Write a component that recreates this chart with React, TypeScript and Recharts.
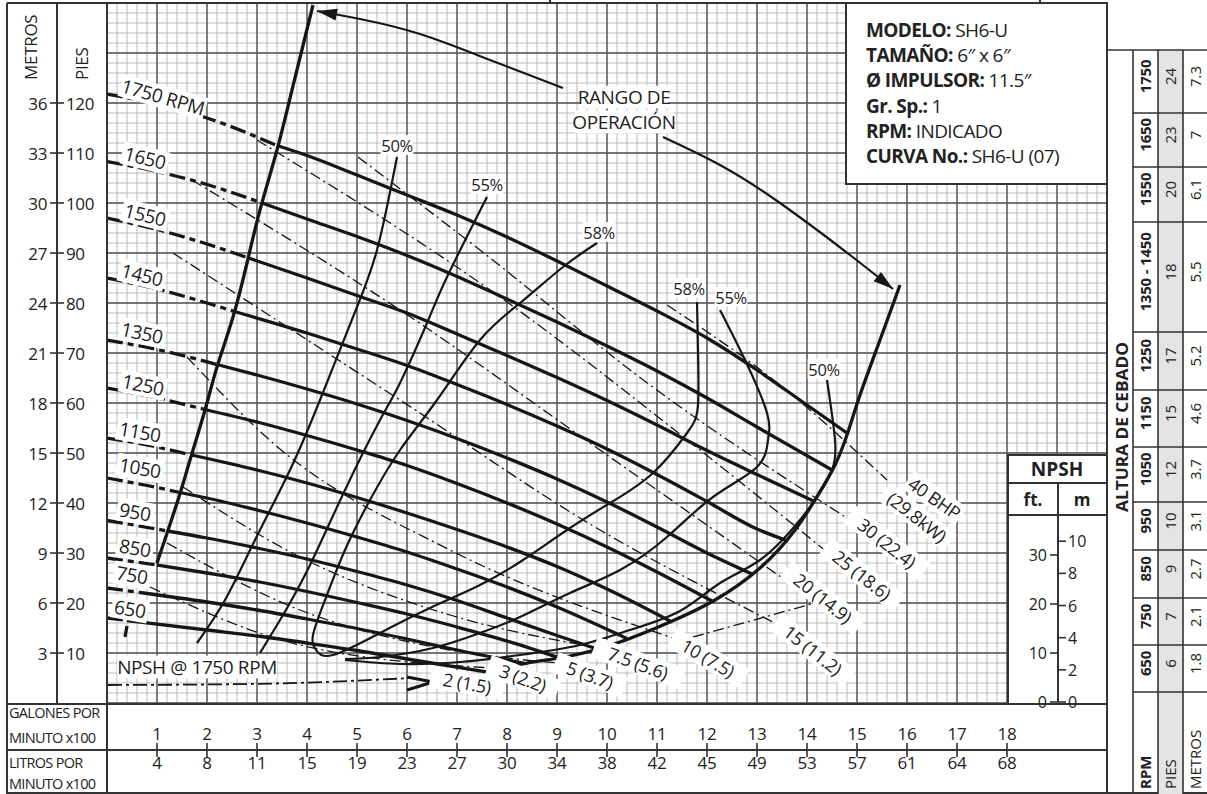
import React from 'react';
import { ComposedChart, Line, Scatter, XAxis, YAxis, CartesianGrid } from 'recharts';

const FONT = "'Open Sans', 'Noto Sans', 'DejaVu Sans', sans-serif";
const INK = '#161616';
const FRAME = '#333';

// ---------- axis ticks ----------
const gpmTicks = [1, 2, 3, 4, 5, 6, 7, 8, 9, 10, 11, 12, 13, 14, 15, 16, 17, 18];
const litrosLabels = ['4', '8', '11', '15', '19', '23', '27', '30', '34', '38', '42', '45', '49', '53', '57', '61', '64', '68'];
const piesTicks = [10, 20, 30, 40, 50, 60, 70, 80, 90, 100, 110, 120];
const metrosLabels = ['3', '6', '9', '12', '15', '18', '21', '24', '27', '30', '33', '36'];

const minorX = Array.from({ length: 101 }, (_, i) => Math.round(i * 2) / 10);
const majorX = Array.from({ length: 21 }, (_, i) => i);
const minorY = Array.from({ length: 71 }, (_, i) => i * 2);
const majorY = Array.from({ length: 15 }, (_, i) => i * 10);

// ---------- head curves (x: GPM x100, y: feet) ----------
const rpm1750Dash = [[0, 121.8], [1, 119.8], [2, 117], [3.4, 111.5]];
const rpm1750 = [[3.4, 111.5], [4, 109.5], [5, 105.6], [6, 101.6], [7, 97.6], [8, 93.2], [9, 88.4], [10, 83.4], [11, 78.4], [12, 73], [13, 66.6], [14, 59.6], [14.8, 54]];
const rpm1650Dash = [[0, 108.3], [1, 106.3], [2, 103.7], [3.1, 100]];
const rpm1650 = [[3.1, 100], [4, 96.8], [5, 93.3], [6, 89.5], [7, 85.3], [8, 80.8], [9, 76.2], [10, 71.4], [11, 66.4], [12, 61], [13, 55.2], [14.5, 46.6]];
const rpm1550Dash = [[0, 97], [1, 94.7], [2, 91.8], [2.83, 89]];
const rpm1550 = [[2.83, 89], [4, 85], [5, 81.5], [6, 78], [7, 73.8], [8, 69.5], [9, 65.1], [10, 60.5], [11, 55.6], [12, 50.5], [13, 45.7], [14.15, 40.3]];
const rpm1450Dash = [[0, 85], [1, 82.8], [2, 80], [2.55, 78.3]];
const rpm1450 = [[2.55, 78.3], [4, 74], [5, 70.8], [6, 67.5], [7, 63.7], [8, 59.7], [9, 55.4], [10, 50.8], [11, 45.7], [12, 40.3], [13, 34.8], [13.62, 32.4]];
const rpm1350Dash = [[0, 72.6], [1, 70.7], [2.2, 67.7]];
const rpm1350 = [[2.2, 67.7], [3, 65.6], [4, 62.8], [5, 59.8], [6, 56.5], [7, 52.9], [8, 49], [9, 44.8], [10, 40.2], [11, 35.2], [12, 30], [12.9, 25.8]];
const rpm1250Dash = [[0, 63], [1, 61], [1.96, 58.7]];
const rpm1250 = [[1.96, 58.7], [3, 56.2], [4, 53.5], [5, 50.6], [6, 47.5], [7, 43.9], [8, 40], [9, 35.8], [10, 31.2], [11, 26.2], [12.1, 20.4]];
const rpm1150Dash = [[0, 53], [0.9, 51.4], [1.69, 49.6]];
const rpm1150 = [[1.69, 49.6], [3, 46.6], [4, 44], [5, 41.1], [6, 38], [7, 34.7], [8, 31.2], [9, 27.3], [10, 22.8], [11.3, 16.2]];
const rpm1050Dash = [[0, 45], [0.8, 43.5], [1.46, 42.1]];
const rpm1050 = [[1.46, 42.1], [2, 41], [3, 38.6], [4, 36], [5, 33.2], [6, 30.2], [7, 26.8], [8, 23.2], [9, 19.2], [10.4, 12.9]];
const rpm950Dash = [[0, 36.5], [0.6, 35.5], [1.21, 34.4]];
const rpm950 = [[1.21, 34.4], [2, 33], [3, 31], [4, 28.8], [5, 26.3], [6, 23.6], [7, 20.5], [8, 17], [9, 13.5], [9.8, 10.8]];
const rpm850Dash = [[0, 29], [0.5, 28.3], [1, 27.6]];
const rpm850 = [[1, 27.6], [2, 26], [3, 24.3], [4, 22.3], [5, 20.1], [6, 17.8], [7, 15.2], [8, 12.4], [9.05, 9]];
const rpm750Dash = [[0, 23], [0.66, 22.1]];
const rpm750 = [[0.66, 22.1], [2, 20.2], [3, 18.6], [4, 16.8], [5, 14.9], [6, 12.8], [7, 10.6], [8.35, 7.9]];
const rpm650Dash = [[0, 17], [0.4, 16.5]];
const rpm650 = [[0.4, 16.5], [2, 14.6], [3, 13.4], [4, 12], [5, 10.5], [6, 8.8], [7.6, 6.2]];

// ---------- operating range ----------
const rangeLeft = [[1.0, 28], [1.42, 40.6], [1.66, 48.6], [1.96, 58.6], [2.2, 67.2], [2.52, 77.2], [2.8, 88], [3.06, 98.6], [3.4, 110.6], [3.7, 122.6], [4.12, 139.6]];
const rangeRight = [[7.6, 6.2], [8.4, 8], [9.26, 9.4], [10.26, 12.2], [11.26, 16.2], [12.16, 20.6], [13.06, 27], [13.76, 34.6], [14.22, 41.6], [14.56, 47.6], [14.82, 54.2], [15.06, 61.6], [15.46, 72.6], [15.86, 83.6]];
const stub650 = [[0.4, 15.4], [0.36, 13.2]];
const arrowLeft = [[9.12, 123], [7.66, 128.6], [6.26, 133.8], [5.06, 136.8], [4.2, 138.4]];
const arrowRight = [[11.12, 113.2], [12.26, 107.6], [13.46, 100], [14.86, 89.6], [15.72, 82.8]];

// ---------- efficiency curves ----------
const eff50Left = [[5.8, 109.2], [5.4, 90.6], [4.92, 77.2], [4.26, 60.6], [3.66, 46.6], [2.96, 32.6], [2.36, 20.6], [1.8, 12]];
const eff55Left = [[7.6, 101.2], [6.8, 85.2], [6.4, 76], [5.86, 64], [5.46, 56.6], [4.76, 42.6], [4.06, 27.6], [3.52, 17.6], [3.06, 10]];
const eff58Loop = [[9.8, 92], [9.12, 87.2], [8.26, 80], [7.46, 72.6], [6.6, 60.6], [5.86, 50.6], [5.26, 40.6], [4.76, 30.6], [4.36, 20.6], [4.12, 13.6], [4.18, 10.6], [4.52, 9.6], [5.46, 14], [6.46, 19], [7.46, 23.6], [8.32, 28.6], [9.2, 34.6], [10.06, 40], [10.92, 46], [11.6, 54], [11.82, 59.6], [11.82, 70.6], [11.8, 80.2]];
const eff55Right = [[12.26, 78.6], [12.76, 68.6], [13.2, 58], [13.22, 52.6], [13.0, 47.2], [12.12, 41.2], [11.2, 33.2], [10.26, 26.6], [9.26, 22], [8.26, 17.2], [7.46, 14], [6.52, 11], [5.46, 9.2], [4.76, 8.8]];
const eff50Right = [[14.4, 64.6], [14.56, 52.6], [14.5, 46.6], [14.2, 41.2], [13.76, 35.4], [13.06, 28.6], [12.26, 24], [11.46, 18.4], [10.46, 14.6], [9.46, 11.6], [8.26, 9.6], [7.06, 8.2], [5.86, 7.8], [4.76, 8.6]];

// ---------- BHP lines ----------
const bhp40 = [[11.2, 79.6], [13.46, 63.6], [15.6, 44.6]];
const bhp30 = [[5.02, 109.2], [7.46, 90.6], [10.86, 63.6], [14.86, 36.6]];
const bhp25 = [[3.0, 112.6], [7.86, 81.2], [11.86, 50.6], [14.4, 30.2]];
const bhp20 = [[1.7, 104.6], [5.86, 78.6], [9.86, 50.6], [13.56, 24.6]];
const bhp15 = [[1.32, 90], [5.86, 60.6], [9.86, 34.6], [13.32, 16.2]];
const bhp10 = [[1.6, 69.2], [3.32, 52], [6.86, 30.6], [11.32, 13]];
const bhp7_5 = [[1.52, 43.2], [3.86, 29.2], [6.86, 17.6], [9.86, 11]];
const bhp5 = [[1.2, 32], [3.86, 18.6], [6.86, 10.6], [9.02, 8]];
const bhp3 = [[0.86, 23.2], [3.86, 11.6], [7.72, 7]];
const bhpLeader = [[11.72, 13.2], [14.16, 20]];
const npsh1750 = [[0.02, 3.6], [2.86, 3.8], [6.1, 5.0]];
const npshZig = [[6.0, 5.2], [6.52, 4.2], [6.0, 2.6]];

// ---------- labels ----------
const rpmLabels = [
  { x: 1.12, y: 121.2, text: '1750 RPM', angle: 16 },
  { x: 0.76, y: 109, text: '1650', angle: 14 },
  { x: 0.76, y: 97.6, text: '1550', angle: 14 },
  { x: 0.7, y: 85.6, text: '1450', angle: 14 },
  { x: 0.7, y: 74, text: '1350', angle: 12 },
  { x: 0.72, y: 63.6, text: '1250', angle: 12 },
  { x: 0.66, y: 54.2, text: '1150', angle: 10 },
  { x: 0.66, y: 47, text: '1050', angle: 10 },
  { x: 0.56, y: 38.2, text: '950', angle: 10 },
  { x: 0.56, y: 31, text: '850', angle: 10 },
  { x: 0.5, y: 25.6, text: '750', angle: 10 },
  { x: 0.46, y: 18.8, text: '650', angle: 10 },
];
const effLabels = [
  { x: 5.8, y: 111.6, text: '50%', angle: 0 },
  { x: 7.6, y: 103.8, text: '55%', angle: 0 },
  { x: 9.84, y: 94.2, text: '58%', angle: 0 },
  { x: 11.64, y: 83, text: '58%', angle: 0 },
  { x: 12.48, y: 81.2, text: '55%', angle: 0 },
  { x: 14.34, y: 66.8, text: '50%', angle: 0 },
];
const bhpLabels = [
  { x: 16.55, y: 41, text: '40 BHP', angle: 35 },
  { x: 16.2, y: 37.2, text: '(29.8kW)', angle: 38 },
  { x: 15.6, y: 32, text: '30 (22.4)', angle: 38 },
  { x: 15.1, y: 25.6, text: '25 (18.6)', angle: 38 },
  { x: 14.32, y: 21, text: '20 (14.9)', angle: 38 },
  { x: 14.12, y: 10.6, text: '15 (11.2)', angle: 38 },
  { x: 12.02, y: 9, text: '10 (7.5)', angle: 30 },
  { x: 10.62, y: 8, text: '7.5 (5.6)', angle: 20 },
  { x: 9.66, y: 5.6, text: '5 (3.7)', angle: 20 },
  { x: 8.32, y: 5, text: '3 (2.2)', angle: 20 },
  { x: 7.2, y: 4, text: '2 (1.5)', angle: 10 },
];
const miscLabels = [
  { x: 10.34, y: 121.2, text: 'RANGO DE', angle: 0 },
  { x: 10.34, y: 116.2, text: 'OPERACIÓN', angle: 0 },
  { x: 1.8, y: 7.2, text: 'NPSH @ 1750 RPM', angle: 0 },
];

// ---------- info + tables ----------
const infoKeys = ['MODELO:', 'TAMAÑO:', 'Ø IMPULSOR:', 'Gr. Sp.:', 'RPM:', 'CURVA No.:'];
const infoVals = ['SH6-U', '6″ x 6″', '11.5″', '1', 'INDICADO', 'SH6-U (07)'];
const tableRpm = ['1750', '1650', '1550', '1350 - 1450', '1250', '1150', '1050', '950', '850', '750', '650'];
const tablePies = ['24', '23', '20', '18', '17', '15', '12', '10', '9', '7', '6'];
const tableMetros = ['7.3', '7', '6.1', '5.5', '5.2', '4.6', '3.7', '3.1', '2.7', '2.1', '1.8'];
const rowEdges = [50, 113, 167, 222, 332, 390, 447, 502, 550, 598, 645, 692];
const npshFtTicks = [0, 10, 20, 30];
const npshMTicks = [0, 2, 4, 6, 8, 10];

const toPts = (a: number[][]) => a.map(([x, y]) => ({ x, y }));

function arrowDot(n: number, len = 20, half = 6) {
  let px = 0;
  let py = 0;
  return (p: any) => {
    const { cx, cy, index } = p;
    if (index < n - 1) {
      px = cx;
      py = cy;
      return <g key={`a${index}`} />;
    }
    const ang = Math.atan2(cy - py, cx - px);
    const bx = cx - len * Math.cos(ang);
    const by = cy - len * Math.sin(ang);
    const nx = -Math.sin(ang) * half;
    const ny = Math.cos(ang) * half;
    return <polygon key={`a${index}`} points={`${cx},${cy} ${bx + nx},${by + ny} ${bx - nx},${by - ny}`} fill={INK} />;
  };
}

const makeLabelShape = (size: number, ls = -0.3) => (props: any) => {
  const { cx, cy, payload } = props;
  const text: string = payload.text;
  const w = text.length * size * 0.54 + 6;
  const h = size * 1.2;
  return (
    <g transform={`translate(${cx},${cy}) rotate(${payload.angle || 0})`}>
      <rect x={-w / 2} y={-h / 2} width={w} height={h} fill="#fff" />
      <text x={0} y={0} textAnchor="middle" dominantBaseline="central" fontSize={size} fontFamily={FONT} fill="#1e1e1e" letterSpacing={ls}>
        {text}
      </text>
    </g>
  );
};

const PiesTick = (props: any) => {
  const { y, payload } = props;
  const v = payload.value;
  const m = metrosLabels[piesTicks.indexOf(v)];
  return (
    <g>
      <line x1={50} x2={64} y1={y} y2={y} stroke={FRAME} strokeWidth={1.6} />
      <text x={47} y={y} textAnchor="end" dominantBaseline="central" fontSize={17} fontFamily={FONT} fill="#222" letterSpacing={-0.4}>{m}</text>
      <text x={66} y={y} textAnchor="start" dominantBaseline="central" fontSize={17} fontFamily={FONT} fill="#222" letterSpacing={-0.4}>{v}</text>
    </g>
  );
};

const GpmTick = (props: any) => {
  const { x, payload } = props;
  const v = payload.value;
  return (
    <g>
      <text x={x} y={740} textAnchor="middle" fontSize={17} fontFamily={FONT} fill="#222" letterSpacing={-0.3}>{v}</text>
      <line x1={x} x2={x} y1={743} y2={757} stroke={FRAME} strokeWidth={1.6} />
      <text x={x} y={769} textAnchor="middle" fontSize={17} fontFamily={FONT} fill="#222" letterSpacing={-0.3}>{litrosLabels[v - 1]}</text>
    </g>
  );
};

const headCurves = [
  [rpm1750Dash, rpm1750], [rpm1650Dash, rpm1650], [rpm1550Dash, rpm1550], [rpm1450Dash, rpm1450],
  [rpm1350Dash, rpm1350], [rpm1250Dash, rpm1250], [rpm1150Dash, rpm1150], [rpm1050Dash, rpm1050],
  [rpm950Dash, rpm950], [rpm850Dash, rpm850], [rpm750Dash, rpm750], [rpm650Dash, rpm650],
];
const effCurves = [eff50Left, eff55Left, eff58Loop, eff55Right, eff50Right];
const bhpCurves = [bhp40, bhp30, bhp25, bhp20, bhp15, bhp10, bhp7_5, bhp5, bhp3];

function Overlay() {
  const rot = (x: number, y: number, t: string, o: any = {}) => (
    <text transform={`translate(${x},${y}) rotate(-90)`} fontFamily={FONT} fill="#222" {...o}>{t}</text>
  );
  const npshY0 = 702;
  return (
    <svg width={1207} height={794} style={{ position: 'absolute', left: 0, top: 0, pointerEvents: 'none' }}>
      {/* frame */}
      <g stroke={FRAME} strokeWidth={2} fill="none">
        <line x1={7} y1={3} x2={1107} y2={3} />
        <line x1={7} y1={3} x2={7} y2={794} />
        <line x1={57} y1={3} x2={57} y2={703} />
        <line x1={107} y1={3} x2={107} y2={794} />
        <line x1={7} y1={704} x2={1107} y2={704} />
        <line x1={7} y1={750} x2={1107} y2={750} />
        <line x1={7} y1={793} x2={1207} y2={793} />
        <line x1={1107} y1={3} x2={1107} y2={794} />
        <line x1={550} y1={0} x2={550} y2={3} />
        <line x1={1040} y1={0} x2={1040} y2={3} />
      </g>
      {rot(37, 80, 'METROS', { fontSize: 17, letterSpacing: -0.3 })}
      {rot(88, 80, 'PIES', { fontSize: 17, letterSpacing: -0.3 })}
      <g fontFamily={FONT} fontSize={14.5} fill="#222" letterSpacing={-0.7}>
        <text x={9} y={718}>GALONES POR</text>
        <text x={9} y={743}>MINUTO x100</text>
        <text x={9} y={768}>LITROS POR</text>
        <text x={9} y={789}>MINUTO x100</text>
      </g>
      {/* info box */}
      <rect x={846} y={3} width={261} height={181} fill="#fff" stroke={FRAME} strokeWidth={2} />
      {infoKeys.map((k, i) => (
        <text key={k} x={866} y={37 + i * 25.2} fontFamily={FONT} fontSize={19} fill="#222" letterSpacing={-0.6}>
          <tspan fontWeight="bold">{k}</tspan>
          <tspan> {infoVals[i]}</tspan>
        </text>
      ))}
      {/* NPSH panel */}
      <rect x={1008} y={455} width={99} height={249} fill="#fff" stroke={FRAME} strokeWidth={2} />
      <line x1={1008} y1={483} x2={1107} y2={483} stroke={FRAME} strokeWidth={2} />
      <line x1={1008} y1={515} x2={1107} y2={515} stroke={FRAME} strokeWidth={2} />
      <line x1={1058} y1={483} x2={1058} y2={npshY0} stroke={FRAME} strokeWidth={2} />
      <text x={1057} y={476} textAnchor="middle" fontFamily={FONT} fontSize={19} fontWeight="bold" fill="#222">NPSH</text>
      <text x={1033} y={506} textAnchor="middle" fontFamily={FONT} fontSize={17} fontWeight="bold" fill="#222">ft.</text>
      <text x={1082} y={506} textAnchor="middle" fontFamily={FONT} fontSize={17} fontWeight="bold" fill="#222">m</text>
      {npshFtTicks.map((t) => (
        <g key={`f${t}`}>
          <line x1={1050} x2={1058} y1={npshY0 - t * 4.9} y2={npshY0 - t * 4.9} stroke={FRAME} strokeWidth={1.6} />
          <text x={1047} y={npshY0 - t * 4.9} textAnchor="end" dominantBaseline="central" fontFamily={FONT} fontSize={16} fill="#222">{t}</text>
        </g>
      ))}
      {npshMTicks.map((t) => (
        <g key={`m${t}`}>
          <line x1={1058} x2={1066} y1={npshY0 - t * 16.08} y2={npshY0 - t * 16.08} stroke={FRAME} strokeWidth={1.6} />
          <text x={1068} y={npshY0 - t * 16.08} textAnchor="start" dominantBaseline="central" fontFamily={FONT} fontSize={16} fill="#222">{t}</text>
        </g>
      ))}
      {/* right table */}
      <rect x={1158} y={50} width={25} height={744} fill="#e4e4e4" />
      <g stroke={FRAME} strokeWidth={1.6}>
        <line x1={1107} y1={50} x2={1207} y2={50} />
        <line x1={1133} y1={50} x2={1133} y2={794} />
        <line x1={1158} y1={50} x2={1158} y2={794} />
        <line x1={1183} y1={50} x2={1183} y2={794} />
        {rowEdges.slice(1).map((y) => (
          <line key={y} x1={1133} y1={y} x2={1207} y2={y} />
        ))}
      </g>
      {tableRpm.map((r, i) => {
        const cy = (rowEdges[i] + rowEdges[i + 1]) / 2 - 5;
        return (
          <g key={r}>
            {rot(1151, cy, r, { fontSize: 15, fontWeight: 'bold', textAnchor: 'middle', letterSpacing: -0.2 })}
            {rot(1176, cy, tablePies[i], { fontSize: 15, textAnchor: 'middle' })}
            {rot(1201, cy, tableMetros[i], { fontSize: 15, textAnchor: 'middle' })}
          </g>
        );
      })}
      {rot(1151, 789, 'RPM', { fontSize: 15, fontWeight: 'bold' })}
      {rot(1176, 789, 'PIES', { fontSize: 15 })}
      {rot(1201, 789, 'METROS', { fontSize: 15 })}
      {rot(1128, 512, 'ALTURA DE CEBADO', { fontSize: 16, fontWeight: 'bold', textLength: 170, lengthAdjust: 'spacingAndGlyphs' })}
    </svg>
  );
}

export default function App() {
  const base = { dataKey: 'y', dot: false, activeDot: false, isAnimationActive: false, legendType: 'none' as const };
  return (
    <div style={{ position: 'absolute', left: 0, top: 0, width: 1207, height: 794, background: '#fff', fontFamily: FONT }}>
      <ComposedChart width={1207} height={794} margin={{ top: 3, right: 100, bottom: 0, left: 7 }}>
        <CartesianGrid verticalValues={minorX} horizontalValues={minorY} stroke="#b3b3b3" strokeWidth={0.9} />
        <CartesianGrid verticalValues={majorX} horizontalValues={majorY} stroke="#555" strokeWidth={1.4} />
        <XAxis type="number" dataKey="x" domain={[0, 20]} ticks={gpmTicks} interval={0} height={91} axisLine={false} tickLine={false} tick={<GpmTick />} />
        <YAxis type="number" dataKey="y" domain={[0, 140]} ticks={piesTicks} interval={0} width={100} axisLine={false} tickLine={false} tick={<PiesTick />} />

        {bhpCurves.map((c, i) => (
          <Line key={`bhp${i}`} {...base} data={toPts(c)} type="monotone" stroke={INK} strokeWidth={1.3} strokeDasharray="11 4 2 4" />
        ))}
        <Line key="bhpL" {...base} data={toPts(bhpLeader)} type="linear" stroke={INK} strokeWidth={1.3} strokeDasharray="11 4 2 4" />
        <Line key="npsh" {...base} data={toPts(npsh1750)} type="monotone" stroke={INK} strokeWidth={1.8} strokeDasharray="14 4 3 4" />
        <Line key="npshz" {...base} data={toPts(npshZig)} type="linear" stroke={INK} strokeWidth={3} />

        {effCurves.map((c, i) => (
          <Line key={`eff${i}`} {...base} data={toPts(c)} type="natural" stroke={INK} strokeWidth={2.2} />
        ))}

        {headCurves.map(([d, s], i) => [
          <Line key={`hd${i}`} {...base} data={toPts(d)} type="monotone" stroke={INK} strokeWidth={3.3} strokeDasharray="16 5 6 5" />,
          <Line key={`hs${i}`} {...base} data={toPts(s)} type="monotone" stroke={INK} strokeWidth={3.3} />,
        ])}

        <Line key="rl" {...base} data={toPts(rangeLeft)} type="natural" stroke={INK} strokeWidth={3.3} />
        <Line key="rr" {...base} data={toPts(rangeRight)} type="natural" stroke={INK} strokeWidth={3.3} />
        <Line key="st" {...base} data={toPts(stub650)} type="linear" stroke={INK} strokeWidth={3.3} />
        <Line key="al" {...base} data={toPts(arrowLeft)} type="natural" stroke={INK} strokeWidth={2.2} dot={arrowDot(arrowLeft.length)} />
        <Line key="ar" {...base} data={toPts(arrowRight)} type="natural" stroke={INK} strokeWidth={2.2} dot={arrowDot(arrowRight.length)} />

        <Scatter key="lr" data={rpmLabels} dataKey="y" isAnimationActive={false} shape={makeLabelShape(19, -0.4)} legendType="none" />
        <Scatter key="le" data={effLabels} dataKey="y" isAnimationActive={false} shape={makeLabelShape(16.5, -0.4)} legendType="none" />
        <Scatter key="lb" data={bhpLabels} dataKey="y" isAnimationActive={false} shape={makeLabelShape(18, -0.4)} legendType="none" />
        <Scatter key="lm" data={miscLabels} dataKey="y" isAnimationActive={false} shape={makeLabelShape(19, -0.4)} legendType="none" />
      </ComposedChart>
      <Overlay />
    </div>
  );
}
